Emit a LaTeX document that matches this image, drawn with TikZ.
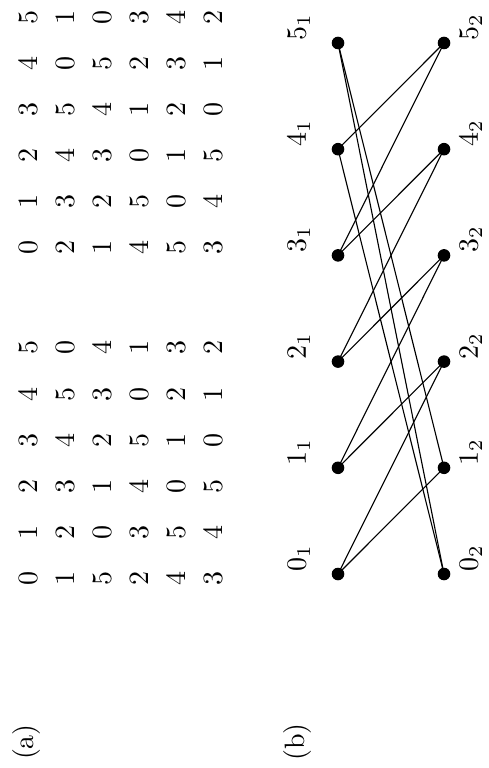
\documentclass[tikz,border=0pt]{standalone}
\begin{document}
\begin{tikzpicture}[x=0.35714pt,y=-0.35714pt]
\tikzset{
  cell/.style={rotate=90, inner sep=0pt, font=\normalsize},
  vlab/.style={rotate=90, inner sep=0pt, anchor=west},
  sublab/.style={rotate=90, inner sep=0pt},
  vtx/.style={circle, fill=black, inner sep=0pt, minimum size=4.5pt},
  edge/.style={line width=0.4pt}
}
\useasboundingbox (0,0) rectangle (488,768);
% (a) top matrix
\foreach \vals [count=\r from 0] in {{5,1,0,3,4,2},{4,0,5,2,3,1},{3,5,4,1,2,0},{2,4,3,0,1,5},{1,3,2,5,0,4},{0,2,1,4,5,3}} {
  \foreach \v [count=\c from 0] in \vals {
    \node[cell] (A-\r-\c) at ({28+37*\c},{18+46*\r}) {\v};
  }
}
% (a) bottom matrix
\foreach \vals [count=\r from 0] in {{5,0,4,1,3,2},{4,5,3,0,2,1},{3,4,2,5,1,0},{2,3,1,4,0,5},{1,2,0,3,5,4},{0,1,5,2,4,3}} {
  \foreach \v [count=\c from 0] in \vals {
    \node[cell] (B-\r-\c) at ({28+37*\c},{348+46*\r}) {\v};
  }
}
% (b) graph
\foreach \i in {0,...,5} {
  \node[vtx] (L\i) at (338,{574-106.2*\i}) {};
  \node[vtx] (R\i) at (444,{574-106.2*\i}) {};
  \node[vlab] (LL\i) at (299,{572-106.2*\i}) {$\i_1$};
  \node[vlab] (RL\i) at (471,{572-106.2*\i}) {$\i_2$};
}
\foreach \i in {0,...,5} {
  \pgfmathtruncatemacro{\ja}{mod(\i+1,6)}
  \pgfmathtruncatemacro{\jb}{mod(\i+2,6)}
  \draw[edge] (L\i.center) -- (R\ja.center);
  \draw[edge] (L\i.center) -- (R\jb.center);
}
\node[sublab] (capa) at (26,742) {(a)};
\node[sublab] (capb) at (297,742) {(b)};
\end{tikzpicture}
\end{document}
